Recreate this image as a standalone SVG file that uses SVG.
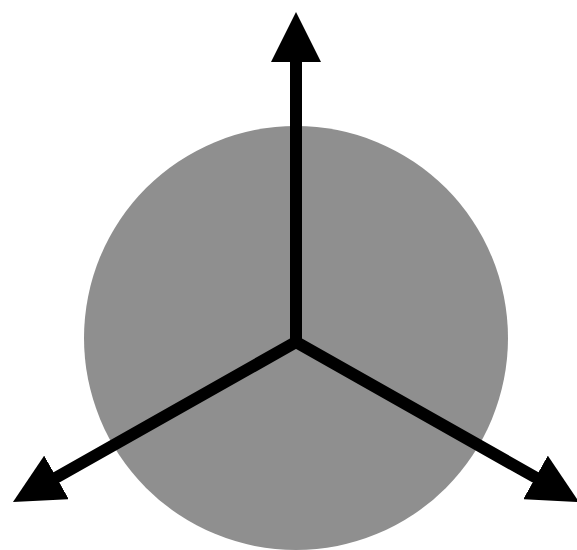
<svg xmlns="http://www.w3.org/2000/svg" width="577" height="550" viewBox="0 0 577 550">
  <style>
    .axis { stroke: #000; stroke-width: 12; stroke-linecap: round; fill: none; }
  </style>
  <defs>
    <marker id="head" viewBox="0 0 50 50" refX="0" refY="25" markerWidth="50" markerHeight="50" markerUnits="userSpaceOnUse" orient="auto">
      <path d="M0,0 L50,25 L0,50 z" fill="#000"/>
    </marker>
  </defs>
  <rect width="577" height="550" fill="#fff"/>
  <g id="disc">
    <circle cx="296" cy="338" r="212" fill="#8f8f8f"/>
  </g>
  <g id="connectors">
    <path class="axis" d="M296,342 L296,62" marker-end="url(#head)"/>
    <path class="axis" d="M296,342 L56.5,477.4" marker-end="url(#head)"/>
    <path class="axis" d="M296,342 L535.5,477.4" marker-end="url(#head)"/>
  </g>
</svg>
